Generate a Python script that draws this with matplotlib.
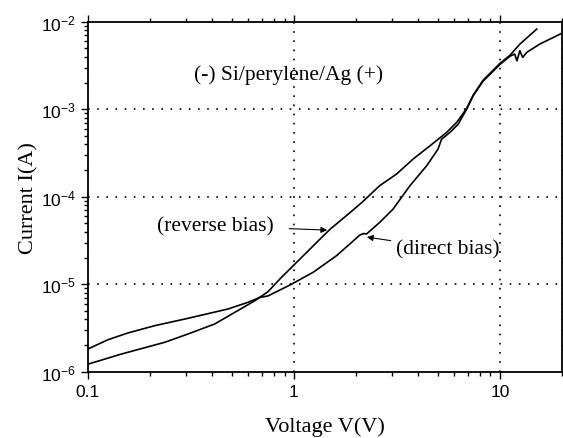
import matplotlib

matplotlib.use("Agg")
import matplotlib.pyplot as plt
import numpy as np

plt.rcParams["font.family"] = ["Liberation Sans", "DejaVu Sans"]
plt.rcParams["axes.unicode_minus"] = False

# reverse bias branch
v_rev = [0.100, 0.145, 0.236, 0.306, 0.412, 0.516, 0.645, 0.748, 0.855, 1.03,
         1.29, 1.50, 1.80, 2.01, 2.17, 2.61, 3.15, 3.79, 4.57, 5.51, 6.17,
         6.89, 7.42, 8.29, 10.0, 11.2, 12.5, 15.1]
i_rev = [1.22e-6, 1.59e-6, 2.17e-6, 2.70e-6, 3.51e-6, 4.77e-6, 6.47e-6, 8.21e-6,
         1.15e-5, 1.78e-5, 3.01e-5, 4.27e-5, 6.10e-5, 7.60e-5, 8.90e-5, 1.34e-4,
         1.82e-4, 2.70e-4, 3.81e-4, 5.44e-4, 7.08e-4, 1.02e-3, 1.45e-3, 2.15e-3,
         3.35e-3, 4.15e-3, 5.56e-3, 8.26e-3]

# direct bias branch
v_dir = [0.100, 0.125, 0.156, 0.211, 0.306, 0.478, 0.598, 0.684, 0.748, 0.956,
         1.24, 1.61, 2.09, 2.18, 2.25, 2.61, 3.03, 3.66, 4.41, 5.01, 5.21, 5.72,
         6.28, 6.89, 7.42, 8.29, 10.0, 11.2, 11.8, 12.1, 12.5, 12.9, 13.5, 15.6,
         18.2, 20.0]
i_dir = [1.82e-6, 2.32e-6, 2.77e-6, 3.36e-6, 4.08e-6, 5.21e-6, 6.21e-6, 7.08e-6,
         7.35e-6, 9.79e-6, 1.37e-5, 2.12e-5, 3.65e-5, 3.80e-5, 3.75e-5, 5.10e-5,
         7.23e-5, 1.34e-4, 2.26e-4, 3.51e-4, 4.56e-4, 5.44e-4, 6.77e-4, 1.00e-3,
         1.43e-3, 2.10e-3, 3.25e-3, 4.05e-3, 4.28e-3, 3.58e-3, 4.67e-3, 3.92e-3,
         4.47e-3, 5.56e-3, 6.64e-3, 7.40e-3]

fig = plt.figure(figsize=(5.63, 4.39), dpi=100)
ax = fig.add_axes([0.1563, 0.151, 0.8417, 0.797])

ax.plot(v_rev, i_rev, color="black", lw=1.2)
ax.plot(v_dir, i_dir, color="black", lw=1.2)

ax.set_xscale("log")
ax.set_yscale("log")
ax.set_xlim(0.1, 20)
ax.set_ylim(1e-6, 1e-2)
ax.set_xticks([0.1, 1, 10])
ax.set_xticklabels(["0.1", "1", "10"])

for v in [1, 10]:
    ax.axvline(v, color="black", lw=1.2, ls=(0, (1, 4.5)), zorder=0)
for c in [1e-5, 1e-4, 1e-3]:
    ax.axhline(c, color="black", lw=1.2, ls=(0, (1, 4.5)), zorder=0)

ax.tick_params(which="both", direction="out", top=True, right=True,
               labelsize=12.5, width=1.0)
ax.tick_params(which="major", length=5)
ax.tick_params(which="minor", length=3)
for s in ax.spines.values():
    s.set_linewidth(1.3)

serif = ["Liberation Serif", "DejaVu Serif"]
ax.set_xlabel("Voltage V(V)", fontsize=16, family=serif, labelpad=13)
ax.set_ylabel("Current I(A)", fontsize=16, family=serif, labelpad=2)

ax.text(0.946, 2.52e-3, "(-) Si/perylene/Ag (+)", fontsize=15.5, family=serif,
        ha="center", va="center")

arrow = dict(arrowstyle="-|>", color="black", lw=0.8, mutation_scale=9,
             shrinkA=2, shrinkB=0)
ax.annotate("(reverse bias)", xy=(1.45, 4.16e-5), xytext=(0.80, 4.65e-5),
            fontsize=15.5, family=serif, ha="right", va="center",
            arrowprops=dict(arrow, shrinkA=9))
ax.annotate("(direct bias)", xy=(2.26, 3.46e-5), xytext=(3.14, 2.52e-5),
            fontsize=15.5, family=serif, ha="left", va="center",
            arrowprops=arrow)

fig.savefig("out.png", dpi=100)
